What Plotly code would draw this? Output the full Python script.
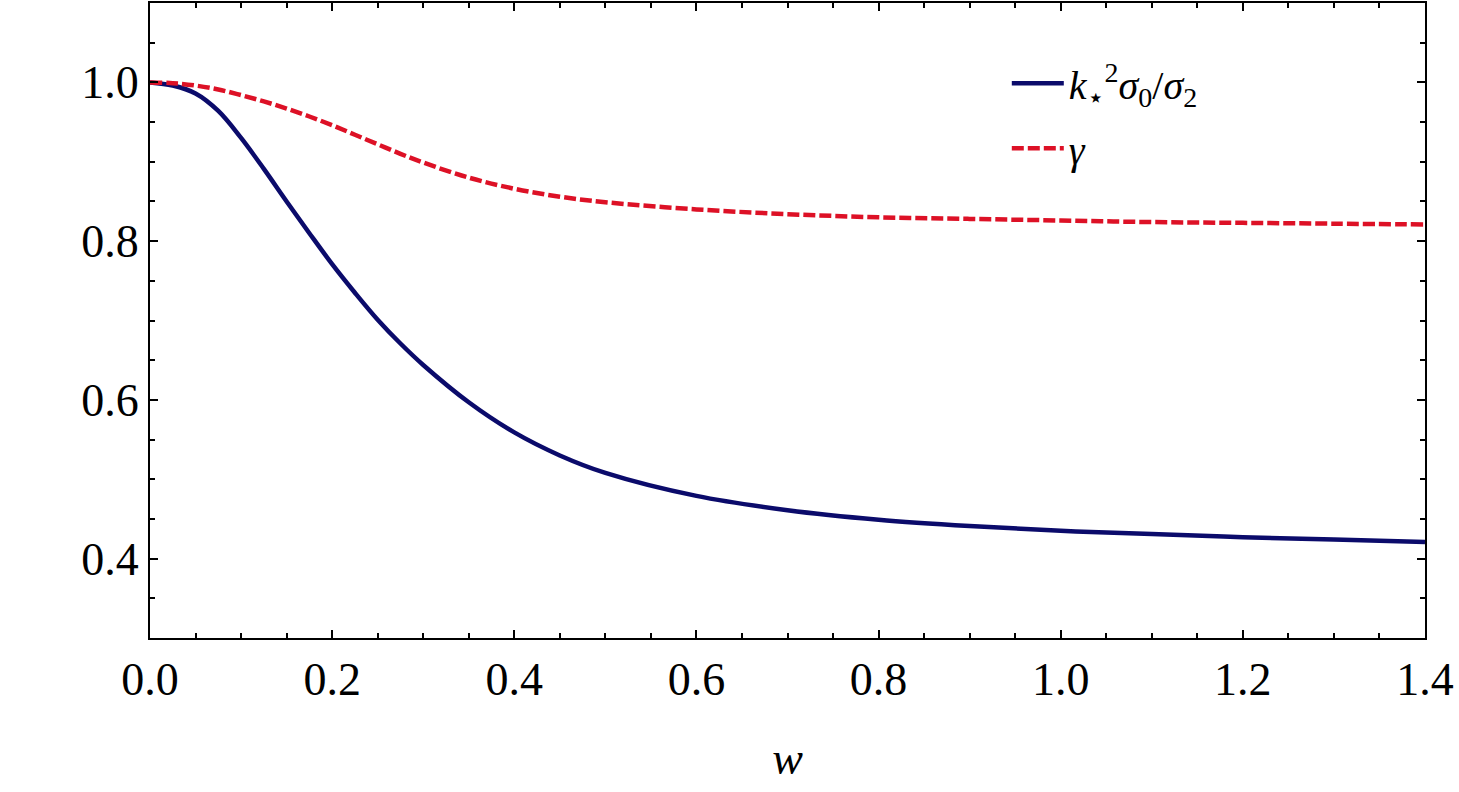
import plotly.graph_objects as go

w = [0, 0.025, 0.05, 0.075, 0.1, 0.125, 0.15, 0.175, 0.2, 0.225, 0.25, 0.275, 0.3, 0.35,
     0.4, 0.45, 0.5, 0.6, 0.7, 0.8, 0.9, 1.0, 1.1, 1.2, 1.3, 1.4]
ratio = [1.0, 0.996, 0.986, 0.964, 0.930, 0.891, 0.850, 0.810, 0.771, 0.735, 0.701,
         0.671, 0.644, 0.597, 0.559, 0.530, 0.508, 0.479, 0.461, 0.449, 0.441, 0.435,
         0.431, 0.427, 0.424, 0.421]
gamma = [1.0, 0.999, 0.996, 0.991, 0.984, 0.976, 0.967, 0.957, 0.946, 0.934, 0.922,
         0.910, 0.899, 0.880, 0.866, 0.856, 0.849, 0.840, 0.834, 0.830, 0.828, 0.826,
         0.824, 0.823, 0.822, 0.821]

xticks = [0.0, 0.2, 0.4, 0.6, 0.8, 1.0, 1.2, 1.4]
xticklabels = ["0.0", "0.2", "0.4", "0.6", "0.8", "1.0", "1.2", "1.4"]
yticks = [0.4, 0.6, 0.8, 1.0]
yticklabels = ["0.4", "0.6", "0.8", "1.0"]

FONT = "Liberation Serif, Times New Roman, serif"

fig = go.Figure()
fig.add_trace(go.Scatter(
    x=w, y=ratio, mode="lines",
    line=dict(color="#0b0b6b", width=4.5, shape="spline", smoothing=1.0),
    name="<i>k</i><sub>⋆</sub><sup>2</sup><i>σ</i><sub>0</sub>/<i>σ</i><sub>2</sub>",
    legendgroup="a"))
fig.add_trace(go.Scatter(
    x=w, y=gamma, mode="lines",
    line=dict(color="#dd1126", width=4.5, dash="12px,4px", shape="spline", smoothing=1.0),
    name="<i>γ</i>", legendgroup="b"))

axis_common = dict(
    showline=True, linecolor="black", linewidth=2, mirror="allticks",
    ticks="inside", ticklen=8, tickwidth=2, tickcolor="black",
    showgrid=False, zeroline=False,
    tickfont=dict(family=FONT, size=46, color="black"),
)

fig.update_xaxes(
    range=[0, 1.4], tickvals=xticks, ticktext=xticklabels,
    minor=dict(dtick=0.05, ticks="inside", ticklen=5, tickwidth=2, tickcolor="black", showgrid=False),
    title=dict(text="<i>w</i>", font=dict(family=FONT, size=46, color="black"), standoff=38),
    **axis_common)
fig.update_yaxes(
    range=[0.3, 1.1], tickvals=yticks, ticktext=yticklabels,
    minor=dict(dtick=0.05, ticks="inside", ticklen=5, tickwidth=2, tickcolor="black", showgrid=False),
    **axis_common)

fig.update_layout(
    width=1459, height=792,
    margin=dict(l=150, r=34, t=1, b=154),
    paper_bgcolor="white", plot_bgcolor="white",
    showlegend=True,
    legend=dict(x=0.672, y=0.925, xanchor="left", yanchor="top",
                font=dict(family=FONT, size=40, color="black"), itemwidth=52,
                bgcolor="rgba(0,0,0,0)", traceorder="grouped", tracegroupgap=10),
)

fig.write_html("out.html")
